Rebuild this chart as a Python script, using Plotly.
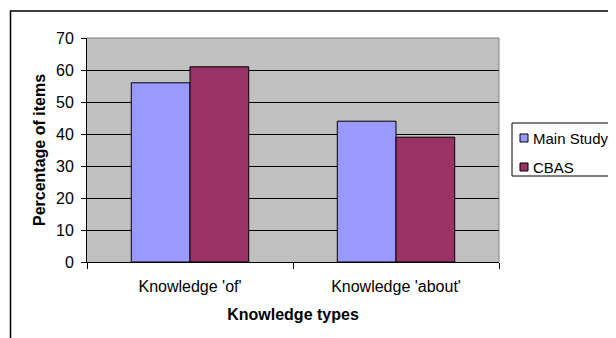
import plotly.graph_objects as go

categories = ["Knowledge 'of'", "Knowledge 'about'"]
series_names = ["Main Study", "CBAS"]
main_study = [56, 44]
cbas = [61, 39]
y_ticks = [0, 10, 20, 30, 40, 50, 60, 70]

FONT = "Liberation Sans, Arial, sans-serif"
COLORS = ["#9999FF", "#993366"]

# page-pixel helpers (browser body margin of 8px is compensated via margins)
PL, PR, PT, PB = 87, 499, 38, 262


def px(x):
    return (x - PL) / (PR - PL)


def py(y):
    return (PB - y) / (PB - PT)


fig = go.Figure()
for name, vals, col in zip(series_names, [main_study, cbas], COLORS):
    fig.add_trace(go.Bar(name=name, x=categories, y=vals,
                         marker=dict(color=col, line=dict(color="#000000", width=1))))

shapes = [
    # outer chart frame
    dict(type="rect", xref="paper", yref="paper",
         x0=px(10.5), x1=px(700), y0=py(400), y1=py(11),
         line=dict(color="#000000", width=1.5), fillcolor="rgba(0,0,0,0)", layer="below"),
    # plot-area border (top, right)
    dict(type="line", xref="paper", yref="paper", x0=0, x1=1, y0=1, y1=1,
         line=dict(color="#808080", width=1)),
    dict(type="line", xref="paper", yref="paper", x0=1, x1=1, y0=0, y1=1,
         line=dict(color="#808080", width=1)),
    # legend box
    dict(type="rect", xref="paper", yref="paper",
         x0=px(512), x1=px(700), y0=py(176), y1=py(123),
         line=dict(color="#000000", width=1), fillcolor="#FFFFFF"),
]
annotations = []
legend_rows = [138, 167]
for name, col, yc in zip(series_names, COLORS, legend_rows):
    shapes.append(dict(type="rect", xref="paper", yref="paper",
                       x0=px(520), x1=px(528), y0=py(yc + 4), y1=py(yc - 4),
                       line=dict(color="#000000", width=1), fillcolor=col))
    annotations.append(dict(text=name, xref="paper", yref="paper", x=px(531), y=py(yc),
                            xanchor="left", yanchor="middle", showarrow=False,
                            font=dict(family=FONT, size=15, color="#000000")))

fig.update_layout(
    width=608, height=330,
    margin=dict(l=79, r=117, t=30, b=76, autoexpand=False),
    paper_bgcolor="#FFFFFF",
    plot_bgcolor="#C0C0C0",
    barmode="group",
    bargap=0.43,
    bargroupgap=0,
    font=dict(family=FONT, size=16, color="#000000"),
    showlegend=False,
    xaxis=dict(
        title=dict(text="<b>Knowledge types</b>", font=dict(family=FONT, size=16), standoff=14),
        showgrid=False, showline=True, linecolor="#000000", linewidth=1,
        ticks="outside", tickson="boundaries", ticklen=6, tickcolor="#000000",
        tickfont=dict(family=FONT, size=16), ticklabelstandoff=10,
    ),
    yaxis=dict(
        title=dict(text="<b>Percentage of items</b>", font=dict(family=FONT, size=16), standoff=6),
        range=[0, 70], tickvals=y_ticks, showgrid=True, gridcolor="#000000", gridwidth=1,
        showline=True, linecolor="#000000", linewidth=1,
        ticks="outside", ticklen=5, tickcolor="#000000",
        tickfont=dict(family=FONT, size=16), ticklabelstandoff=4, zeroline=False,
    ),
    shapes=shapes,
    annotations=annotations,
)

fig.write_html("out.html")
